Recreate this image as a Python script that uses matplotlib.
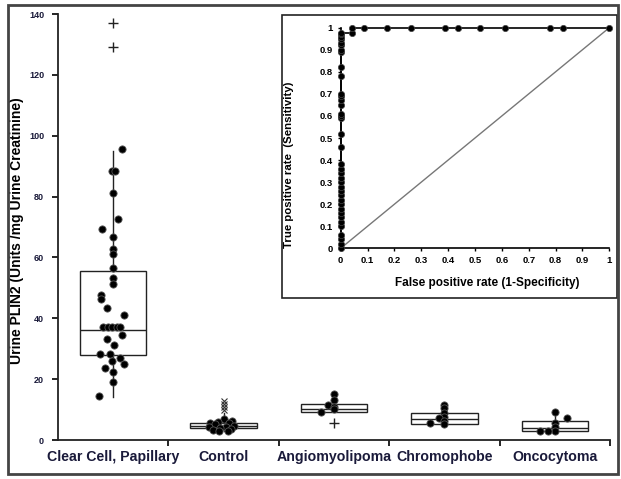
import matplotlib
matplotlib.use("Agg")
import matplotlib.pyplot as plt
from matplotlib.patches import Rectangle

plt.rcParams['font.family'] = ['Liberation Sans', 'DejaVu Sans']
plt.rcParams['font.weight'] = 'bold'

# ---------------- data ----------------
categories = ["Clear Cell, Papillary", "Control", "Angiomyolipoma", "Chromophobe", "Oncocytoma"]

box_q1 = [28.0, 3.9, 9.1, 5.2, 3.1]
box_med = [36.0, 4.5, 10.2, 6.8, 4.0]
box_q3 = [55.5, 5.7, 11.8, 8.8, 6.3]
whisk_lo = [14.0, 3.0, 9.1, 5.1, 3.1]
whisk_hi = [95.0, 9.0, 15.1, 11.5, 9.1]
outliers = [[137.0, 129.0], [], [5.7], [], []]
extreme = [[9.8, 10.8, 11.8, 12.8]]
extreme_cat = [1]

clear_vals = [95.5, 88.4, 88.4, 81.3, 72.5, 69.2, 66.6, 62.7, 61.1, 56.4, 53.1, 51.2,
              47.6, 46.3, 43.3, 41.1, 37.0, 37.0, 37.0, 37.0, 37.0, 34.5, 33.1, 31.2,
              28.2, 28.2, 27.1, 26.0, 24.9, 23.6, 22.4, 19.2, 14.6]
clear_off = [0.08, -0.015, 0.02, 0.0, 0.04, -0.1, 0.0, 0.0, 0.0, 0.0, 0.0, 0.0,
             -0.11, -0.11, -0.06, 0.1, -0.09, -0.045, -0.01, 0.03, 0.06, 0.08, -0.06, 0.005,
             -0.12, -0.03, 0.06, -0.01, 0.1, -0.07, 0.0, 0.0, -0.13]
control_vals = [6.8, 6.3, 6.0, 5.7, 5.5, 5.3, 4.6, 4.4, 4.2, 4.0, 3.6, 3.3, 3.0, 2.9]
control_off = [0.0, 0.08, -0.05, -0.12, 0.05, -0.08, 0.09, -0.13, 0.02, -0.03, 0.07, -0.1, -0.04, 0.04]
angio_vals = [15.1, 13.1, 11.5, 10.8, 10.2, 9.1]
angio_off = [0.0, 0.0, -0.05, 0.0, 0.0, -0.12]
chromo_vals = [11.5, 10.5, 8.8, 7.7, 7.3, 6.2, 5.5, 5.1]
chromo_off = [0.0, 0.0, 0.0, 0.0, -0.05, 0.0, -0.13, 0.0]
onco_vals = [9.1, 7.1, 5.7, 4.4, 3.1, 3.1, 3.1]
onco_off = [0.0, 0.11, 0.0, 0.0, 0.0, -0.06, -0.13]

point_vals = [clear_vals, control_vals, angio_vals, chromo_vals, onco_vals]
point_offs = [clear_off, control_off, angio_off, chromo_off, onco_off]

roc_fpr = [0.0] * 38 + [0.043, 0.043, 0.087, 0.174, 0.26, 0.39, 0.435, 0.52, 0.61, 0.78, 0.826, 1.0]
roc_tpr = [0.0, 0.02, 0.04, 0.06, 0.1, 0.12, 0.14, 0.16, 0.18, 0.2, 0.22, 0.24, 0.26, 0.28,
           0.3, 0.32, 0.34, 0.36, 0.38, 0.46, 0.52, 0.59, 0.6, 0.61, 0.65, 0.67, 0.69, 0.7,
           0.78, 0.82, 0.89, 0.9, 0.92, 0.93, 0.95, 0.96, 0.97, 0.975,
           0.975, 1.0, 1.0, 1.0, 1.0, 1.0, 1.0, 1.0, 1.0, 1.0, 1.0, 1.0]
roc_ticks = [0, 0.1, 0.2, 0.3, 0.4, 0.5, 0.6, 0.7, 0.8, 0.9, 1]
roc_ticklabels = ["0", "0.1", "0.2", "0.3", "0.4", "0.5", "0.6", "0.7", "0.8", "0.9", "1"]

y_ticks = [0, 20, 40, 60, 80, 100, 120, 140]

# ---------------- figure ----------------
W, H = 621, 479
fig = plt.figure(figsize=(W / 100, H / 100), dpi=100)

def fx(px):
    return px / W

def fy(py):
    return 1 - py / H

ax = fig.add_axes([fx(58), fy(440), fx(610) - fx(58), fy(14) - fy(440)])

positions = list(range(1, len(categories) + 1))
stats = []
for i in range(len(categories)):
    stats.append(dict(med=box_med[i], q1=box_q1[i], q3=box_q3[i],
                      whislo=whisk_lo[i], whishi=whisk_hi[i], fliers=outliers[i]))
ax.bxp(stats, positions=positions, widths=0.6, showcaps=False, patch_artist=True,
       boxprops=dict(facecolor='white', edgecolor='#222222', linewidth=1.0),
       medianprops=dict(color='#222222', linewidth=1.0),
       whiskerprops=dict(color='#222222', linewidth=1.0),
       flierprops=dict(marker='+', markersize=7, markeredgecolor='#222222', markeredgewidth=1.0))

for ci, vals in zip(extreme_cat, extreme):
    ax.plot([positions[ci]] * len(vals), vals, linestyle='none', marker='x',
            markersize=4.5, markeredgecolor='#333333', markeredgewidth=0.8, zorder=3)

for i, (vals, offs) in enumerate(zip(point_vals, point_offs)):
    xs = [positions[i] + o for o in offs]
    ax.plot(xs, vals, linestyle='none', marker='o', markersize=5.2,
            markerfacecolor='black', markeredgecolor='#555555', markeredgewidth=0.6, zorder=4)

ax.set_xlim(0.5, 5.5)
ax.set_ylim(0, 140)
ax.set_yticks(y_ticks)
ax.set_yticklabels([str(v) for v in y_ticks], fontsize=6.5, fontweight='bold', color='#1a1a3a')
ax.set_xticks([p + 0.5 for p in positions])
ax.set_xticklabels([])
ax.set_xticks(positions, minor=True)
ax.set_xticklabels(categories, minor=True, fontsize=10.2, fontweight='bold', color='#1a1a3a')
ax.tick_params(axis='x', which='minor', length=0, pad=7)
ax.tick_params(axis='x', which='major', length=4, width=1.2, direction='out')
ax.tick_params(axis='y', length=4, width=1.2, direction='out', pad=6)
for s in ['top', 'right']:
    ax.spines[s].set_visible(False)
for s in ['left', 'bottom']:
    ax.spines[s].set_linewidth(1.3)
    ax.spines[s].set_color('#222222')
ax.set_ylabel("Urine PLIN2 (Units /mg Urine Creatinine)", fontsize=10, fontweight='bold')
ax.yaxis.set_label_coords((24 - 58) / (610 - 58), (440 - 231) / (440 - 14))

# inset frame
fig.patches.append(Rectangle((fx(282), fy(298)), fx(617) - fx(282), fy(15) - fy(298),
                             transform=fig.transFigure, fill=False, edgecolor='#222222',
                             linewidth=1.2, zorder=5))
# outer frame
fig.patches.append(Rectangle((fx(8), fy(474)), fx(618) - fx(8), fy(5) - fy(474),
                             transform=fig.transFigure, fill=False, edgecolor='#444444',
                             linewidth=2.0, zorder=5))

L, R, T, B = 340.7, 609.3, 27.7, 248.3
axi = fig.add_axes([fx(L), fy(B), fx(R) - fx(L), fy(T) - fy(B)])
axi.patch.set_alpha(0)
axi.plot([0, 1], [0, 1], color='#777777', linewidth=1.0, zorder=2)
axi.plot(roc_fpr, roc_tpr, color='black', linewidth=1.2, marker='o', markersize=4.5,
         markerfacecolor='black', markeredgecolor='#444444', markeredgewidth=0.5,
         zorder=3, clip_on=False)
axi.set_xlim(0, 1)
axi.set_ylim(0, 1)
axi.set_xticks(roc_ticks)
axi.set_xticklabels(roc_ticklabels, fontsize=6.8, fontweight='bold')
axi.set_yticks(roc_ticks)
axi.set_yticklabels(roc_ticklabels, fontsize=6.8, fontweight='bold')
axi.tick_params(length=2.5, width=1.0, direction='out', pad=3)
for s in ['top', 'right']:
    axi.spines[s].set_visible(False)
for s in ['left', 'bottom']:
    axi.spines[s].set_linewidth(1.2)
axi.set_xlabel("False positive rate (1-Specificity)", fontsize=8.5, fontweight='bold')
axi.xaxis.set_label_coords((487 - L) / (R - L), (B - 277) / (B - T))
axi.set_ylabel("True positive rate  (Sensitivity)", fontsize=8.2, fontweight='bold')
axi.yaxis.set_label_coords((294 - L) / (R - L), (B - 165) / (B - T))

fig.savefig("out.png", dpi=100, facecolor='white')
